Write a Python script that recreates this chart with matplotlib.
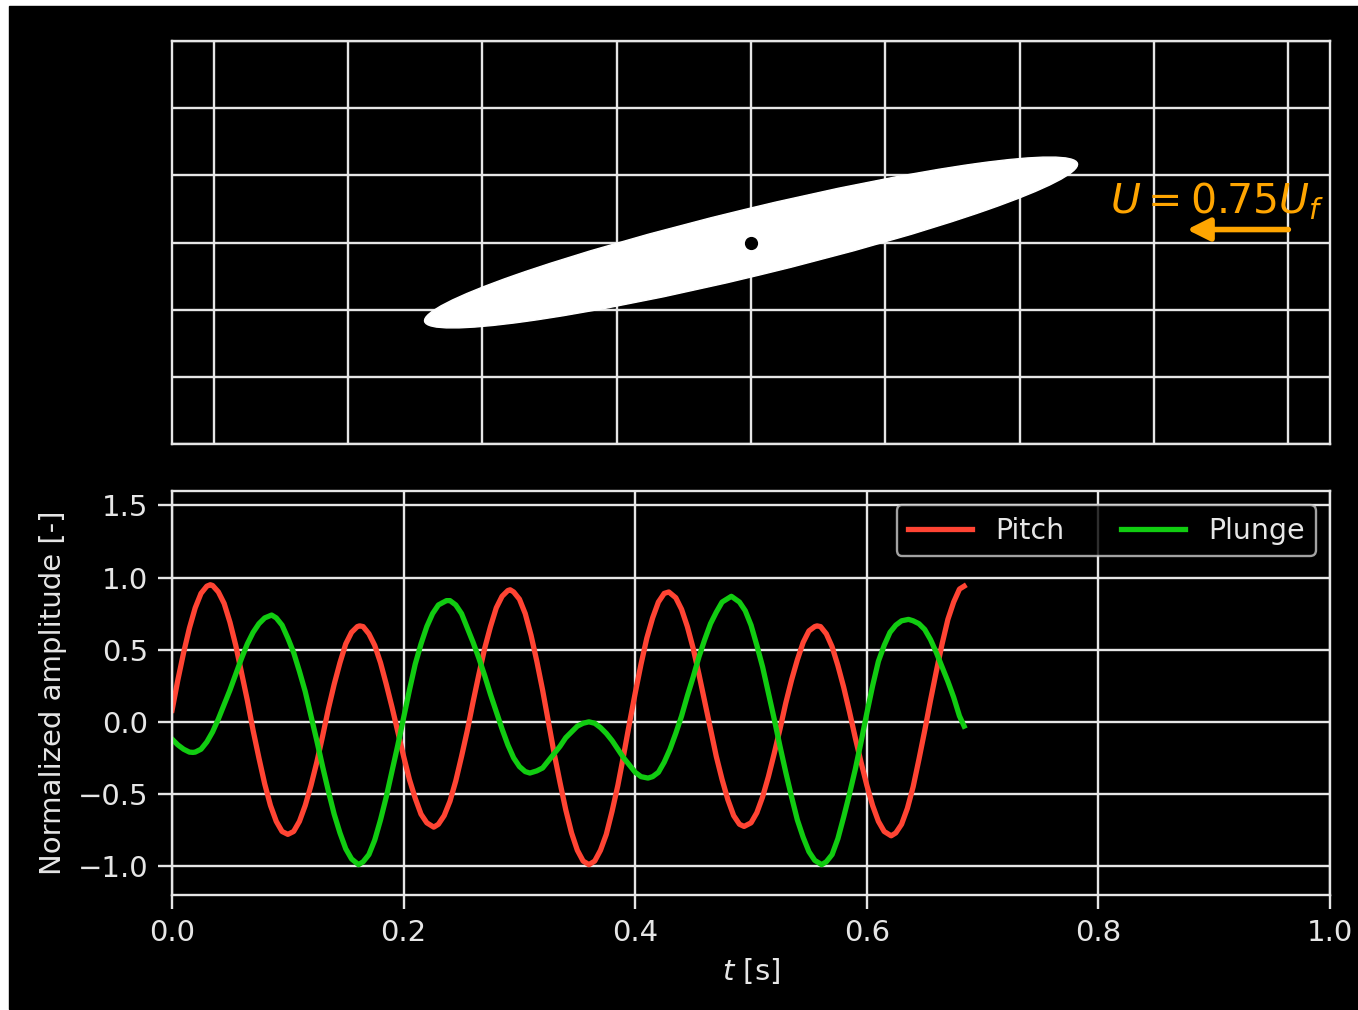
import matplotlib
matplotlib.use('Agg')
import matplotlib.pyplot as plt
from matplotlib.patches import Ellipse, Rectangle

plt.style.use('dark_background')
plt.rcParams['font.family'] = ['DejaVu Sans']
plt.rcParams['mathtext.fontset'] = 'dejavusans'

# pitch response
t_pitch = [0.000, 0.005, 0.010, 0.015, 0.020, 0.025, 0.030, 0.033, 0.035, 0.040,
           0.045, 0.050, 0.055, 0.060, 0.065, 0.070, 0.075, 0.080, 0.085, 0.090,
           0.095, 0.100, 0.105, 0.110, 0.115, 0.120, 0.125, 0.130, 0.135, 0.140,
           0.145, 0.150, 0.155, 0.160, 0.162, 0.165, 0.170, 0.175, 0.180, 0.185,
           0.190, 0.195, 0.200, 0.205, 0.210, 0.215, 0.220, 0.226, 0.230, 0.235,
           0.240, 0.245, 0.250, 0.255, 0.260, 0.265, 0.270, 0.275, 0.280, 0.285,
           0.290, 0.292, 0.295, 0.300, 0.305, 0.310, 0.315, 0.320, 0.325, 0.330,
           0.335, 0.340, 0.345, 0.350, 0.355, 0.360, 0.365, 0.370, 0.375, 0.380,
           0.385, 0.390, 0.395, 0.400, 0.405, 0.410, 0.415, 0.420, 0.425, 0.429,
           0.435, 0.440, 0.445, 0.450, 0.455, 0.460, 0.465, 0.470, 0.475, 0.480,
           0.485, 0.490, 0.494, 0.500, 0.505, 0.510, 0.515, 0.520, 0.525, 0.530,
           0.535, 0.540, 0.545, 0.550, 0.555, 0.557, 0.560, 0.565, 0.570, 0.575,
           0.580, 0.585, 0.590, 0.595, 0.600, 0.605, 0.610, 0.615, 0.621, 0.625,
           0.630, 0.635, 0.640, 0.645, 0.650, 0.655, 0.660, 0.665, 0.670, 0.675,
           0.680, 0.684]
pitch = [0.08, 0.29, 0.48, 0.65, 0.79, 0.89, 0.94, 0.95, 0.945, 0.90,
         0.82, 0.69, 0.53, 0.34, 0.15, -0.06, -0.25, -0.43, -0.58, -0.69,
         -0.76, -0.78, -0.76, -0.69, -0.58, -0.44, -0.28, -0.10, 0.09, 0.26,
         0.41, 0.54, 0.62, 0.66, 0.665, 0.66, 0.61, 0.53, 0.41, 0.26,
         0.10, -0.07, -0.24, -0.40, -0.53, -0.64, -0.70, -0.73, -0.71, -0.65,
         -0.55, -0.41, -0.24, -0.06, 0.14, 0.33, 0.51, 0.66, 0.79, 0.87,
         0.91, 0.915, 0.90, 0.85, 0.75, 0.60, 0.42, 0.22, 0.00, -0.22,
         -0.42, -0.61, -0.77, -0.89, -0.965, -0.99, -0.965, -0.89, -0.78, -0.62,
         -0.44, -0.23, -0.01, 0.20, 0.40, 0.58, 0.72, 0.83, 0.89, 0.90,
         0.86, 0.78, 0.66, 0.51, 0.33, 0.14, -0.05, -0.24, -0.40, -0.54,
         -0.65, -0.71, -0.725, -0.70, -0.63, -0.52, -0.38, -0.22, -0.05, 0.13,
         0.29, 0.43, 0.55, 0.63, 0.66, 0.665, 0.66, 0.61, 0.52, 0.39,
         0.24, 0.07, -0.11, -0.28, -0.44, -0.58, -0.69, -0.76, -0.79, -0.77,
         -0.71, -0.60, -0.45, -0.26, -0.06, 0.15, 0.35, 0.54, 0.71, 0.83,
         0.92, 0.94]

# plunge response
t_plunge = [0.000, 0.005, 0.010, 0.015, 0.018, 0.020, 0.025, 0.030, 0.035, 0.040,
            0.045, 0.050, 0.055, 0.060, 0.065, 0.070, 0.075, 0.080, 0.086, 0.090,
            0.095, 0.100, 0.105, 0.110, 0.115, 0.120, 0.125, 0.130, 0.135, 0.140,
            0.145, 0.150, 0.155, 0.161, 0.165, 0.170, 0.175, 0.180, 0.185, 0.190,
            0.195, 0.200, 0.205, 0.210, 0.215, 0.220, 0.225, 0.230, 0.237, 0.240,
            0.245, 0.250, 0.255, 0.260, 0.265, 0.270, 0.275, 0.280, 0.285, 0.290,
            0.295, 0.300, 0.305, 0.309, 0.315, 0.320, 0.325, 0.330, 0.335, 0.340,
            0.345, 0.350, 0.355, 0.360, 0.365, 0.370, 0.375, 0.380, 0.385, 0.390,
            0.395, 0.400, 0.405, 0.411, 0.415, 0.420, 0.425, 0.430, 0.435, 0.440,
            0.445, 0.450, 0.455, 0.460, 0.465, 0.470, 0.475, 0.483, 0.490, 0.495,
            0.500, 0.505, 0.510, 0.515, 0.520, 0.525, 0.530, 0.535, 0.540, 0.545,
            0.550, 0.555, 0.561, 0.565, 0.570, 0.575, 0.580, 0.585, 0.590, 0.595,
            0.600, 0.605, 0.610, 0.615, 0.620, 0.625, 0.630, 0.636, 0.640, 0.645,
            0.650, 0.655, 0.660, 0.665, 0.670, 0.675, 0.680, 0.684]
plunge = [-0.12, -0.16, -0.19, -0.21, -0.212, -0.21, -0.19, -0.14, -0.07, 0.02,
          0.12, 0.22, 0.33, 0.44, 0.54, 0.62, 0.68, 0.72, 0.74, 0.72,
          0.67, 0.58, 0.48, 0.35, 0.21, 0.04, -0.13, -0.31, -0.48, -0.64,
          -0.77, -0.88, -0.95, -0.99, -0.97, -0.92, -0.82, -0.68, -0.52, -0.34,
          -0.16, 0.03, 0.22, 0.40, 0.54, 0.66, 0.75, 0.81, 0.84, 0.84,
          0.81, 0.75, 0.65, 0.55, 0.44, 0.32, 0.19, 0.07, -0.05, -0.16,
          -0.25, -0.31, -0.345, -0.355, -0.34, -0.32, -0.27, -0.22, -0.17, -0.11,
          -0.07, -0.03, -0.01, 0.00, -0.01, -0.04, -0.08, -0.13, -0.19, -0.25,
          -0.30, -0.35, -0.38, -0.39, -0.38, -0.35, -0.28, -0.19, -0.08, 0.04,
          0.18, 0.31, 0.45, 0.57, 0.68, 0.76, 0.83, 0.87, 0.83, 0.77,
          0.67, 0.53, 0.38, 0.20, 0.02, -0.17, -0.35, -0.52, -0.68, -0.80,
          -0.90, -0.96, -0.99, -0.97, -0.92, -0.81, -0.66, -0.50, -0.33, -0.14,
          0.06, 0.25, 0.42, 0.53, 0.62, 0.67, 0.70, 0.71, 0.70, 0.68,
          0.64, 0.57, 0.48, 0.38, 0.28, 0.17, 0.04, -0.03]

chord = 1.0
thickness = 0.1
pitch_angle = 13.6   # degrees, current frame
speed_label = r'$U = 0.75U_f$'

fs = 21
fig = plt.figure(figsize=(13.58, 10.10), dpi=100, facecolor='white')
fig.patches.append(Rectangle((9 / 1358, 1 / 1010), 1349 / 1358, 1003 / 1010,
                             transform=fig.transFigure, color='black', zorder=-5))

# top: foil view
ax1 = fig.add_axes([0.1267, 0.5604, 0.8527, 0.3990])
ax1.set_facecolor('black')
ax1.set_xlim(-0.862, 0.862)
ax1.set_ylim(-0.3, 0.3)
ax1.set_xticks([-0.8, -0.6, -0.4, -0.2, 0.0, 0.2, 0.4, 0.6, 0.8])
ax1.set_yticks([-0.3, -0.2, -0.1, 0.0, 0.1, 0.2, 0.3])
ax1.tick_params(length=0, labelbottom=False, labelleft=False)
ax1.grid(True, color='#e6e6e6', lw=1.7)
ax1.set_axisbelow(True)
for s in ax1.spines.values():
    s.set_color('#e6e6e6')
    s.set_linewidth(1.7)
ax1.add_patch(Ellipse((0, 0), chord, thickness, angle=pitch_angle,
                      color='white', zorder=3))
ax1.plot([0], [0], 'o', color='black', ms=8.5, zorder=4)
ax1.text(0.534, 0.043, speed_label, color='orange', fontsize=29.5,
         ha='left', va='baseline', zorder=5)
ax1.annotate('', xy=(0.649, 0.0193), xytext=(0.80, 0.0193),
             arrowprops=dict(arrowstyle='-|>', color='orange', lw=4,
                             mutation_scale=34, shrinkA=0, shrinkB=0),
             zorder=5)

# bottom: time histories
ax2 = fig.add_axes([0.1267, 0.1139, 0.8527, 0.4000])
ax2.set_facecolor('black')
ax2.plot(t_pitch, pitch, color='#ff4433', lw=3.8, label='Pitch')
ax2.plot(t_plunge, plunge, color='#11cc11', lw=3.8, label='Plunge')
ax2.set_xlim(0, 1)
ax2.set_ylim(-1.2, 1.6)
ax2.set_xticks([0.0, 0.2, 0.4, 0.6, 0.8, 1.0])
ax2.set_yticks([-1.0, -0.5, 0.0, 0.5, 1.0, 1.5])
ax2.tick_params(labelsize=fs, length=10, width=1.7, pad=7, colors='#e6e6e6')
ax2.grid(True, color='#e6e6e6', lw=1.7)
ax2.set_axisbelow(True)
for s in ax2.spines.values():
    s.set_color('#e6e6e6')
    s.set_linewidth(1.7)
ax2.set_xlabel(r'$t$ [s]', fontsize=fs, color='#e6e6e6', labelpad=7)
ax2.set_ylabel('Normalized amplitude [-]', fontsize=fs, color='#e6e6e6', labelpad=8)
leg = ax2.legend(loc='upper right', ncol=2, fontsize=20.5, handlelength=2.25,
                 borderaxespad=0.5, framealpha=0.8, facecolor='black',
                 edgecolor='#cccccc')
leg.get_frame().set_linewidth(1.7)
for txt in leg.get_texts():
    txt.set_color('#e6e6e6')

fig.savefig('out.png', dpi=100, facecolor='white')
